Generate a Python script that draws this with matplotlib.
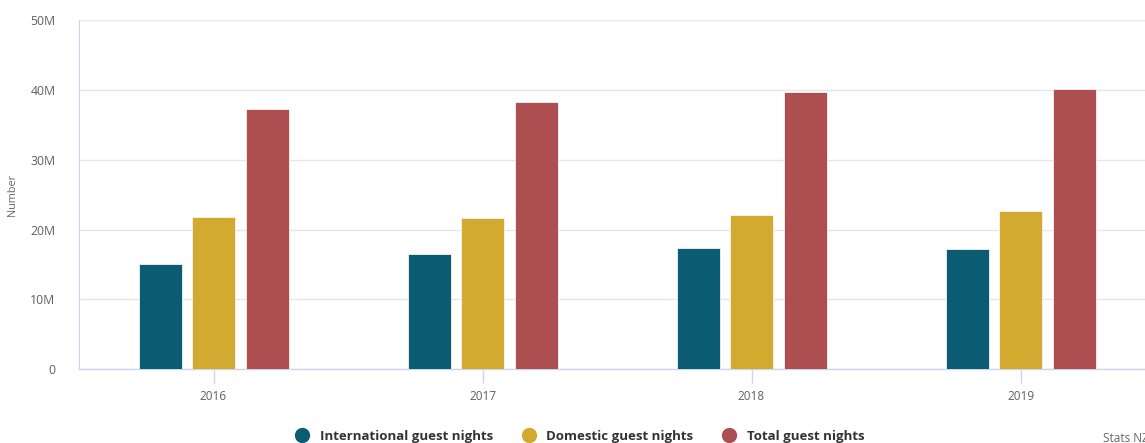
import matplotlib
matplotlib.use("Agg")
import matplotlib.pyplot as plt
from matplotlib.lines import Line2D
import numpy as np

# data (millions of guest nights)
years = ["2016", "2017", "2018", "2019"]
international = [15.1, 16.5, 17.4, 17.2]
domestic = [21.8, 21.6, 22.1, 22.7]
total = [37.2, 38.3, 39.7, 40.1]

series_names = ["International guest nights", "Domestic guest nights", "Total guest nights"]
colors = ["#0b5c73", "#d1aa2f", "#ad4e50"]

plt.rcParams["font.family"] = ["Open Sans", "DejaVu Sans"]

fig = plt.figure(figsize=(11.45, 4.43), dpi=100)
# plot area runs past the right edge of the picture, as in the reference
ax = fig.add_axes([79 / 1145, 73.7 / 443, 1076 / 1145, 349.4 / 443])

x = np.arange(len(years))
width = 0.16
offsets = [-0.198, 0.0, 0.2]
for vals, off, col, name in zip([international, domestic, total], offsets, colors, series_names):
    ax.bar(x + off, np.array(vals) * 1e6, width, color=col, edgecolor="#f4f4f4",
           linewidth=0.6, label=name, zorder=3)

ax.set_xlim(-0.5, 3.5)
ax.set_ylim(0, 50e6)
ax.set_yticks(np.arange(0, 50e6 + 1, 10e6))
ax.set_yticklabels(["0", "10M", "20M", "30M", "40M", "50M"])
ax.set_xticks(x)
ax.set_xticklabels(years)

ax.grid(axis="y", color="#e6e6e6", linewidth=1, zorder=0)
for side in ["top", "right"]:
    ax.spines[side].set_visible(False)
ax.spines["left"].set_color("#ccd6eb")
ax.spines["bottom"].set_color("#ccd6eb")
ax.spines["left"].set_linewidth(0.8)
ax.spines["bottom"].set_linewidth(1)

ax.tick_params(axis="y", length=0, pad=17, labelsize=8.8, labelcolor="#606060")
ax.tick_params(axis="x", length=10, width=1, color="#ccd6eb", pad=5,
               labelsize=8.5, labelcolor="#606060")

ax.set_ylabel("Number", fontsize=7.8, color="#666666")
ax.yaxis.set_label_coords(-61 / 1076, 0.5)

handles = [Line2D([], [], marker="o", linestyle="none", markersize=10,
                  markerfacecolor=c, markeredgecolor=c) for c in colors]
leg = fig.legend(handles, series_names, loc="center", bbox_to_anchor=(580 / 1145, 6.5 / 443),
                 ncol=3, frameon=False, handletextpad=0.85, columnspacing=2.2,
                 handlelength=1.0, prop={"size": 9.5, "weight": "bold"})
for t in leg.get_texts():
    t.set_color("#333333")

# source credit, clipped by the right edge as in the reference
fig.text(1103 / 1145, 5 / 443, "Stats NZ", fontsize=8.5, color="#666666", ha="left", va="center")

fig.savefig("out.png", dpi=100)
